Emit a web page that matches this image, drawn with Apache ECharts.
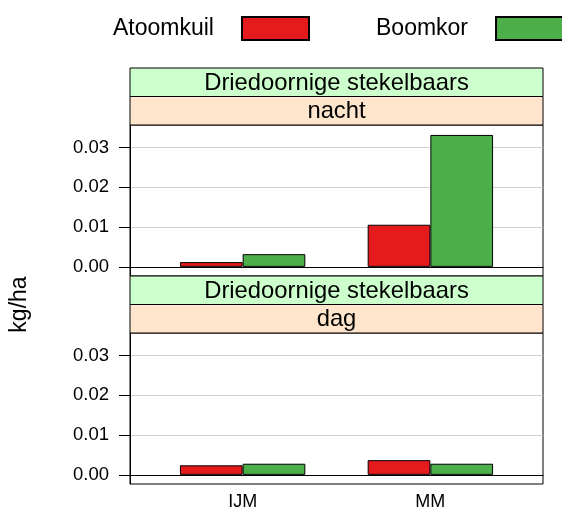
<!DOCTYPE html>
<html><head><meta charset="utf-8">
<script src="https://cdn.jsdelivr.net/npm/echarts@6/dist/echarts.min.js"></script>
<style>html,body{margin:0;padding:0;background:#fff}#c{width:562px;height:513px}</style>
</head><body><div id="c"></div>
<script>
// ---- data ----
const categories = ['IJM', 'MM'];
const xPositions = [1, 2];
const seriesNames = ['Atoomkuil', 'Boomkor'];
const species = 'Driedoornige stekelbaars';
const panels = ['nacht', 'dag'];
const nachtAtoomkuil = [0.0012, 0.0106];
const nachtBoomkor = [0.0032, 0.0332];
const dagAtoomkuil = [0.0024, 0.0037];
const dagBoomkor = [0.0028, 0.0028];
const yTicks = [0, 0.01, 0.02, 0.03];
const yLabel = 'kg/ha';

// ---- styles ----
const FONT = 'Liberation Sans, Arial, sans-serif';
const colors = ['#E41A1C', '#4DAF4A'];
const panelValues = [[nachtAtoomkuil, nachtBoomkor], [dagAtoomkuil, dagBoomkor]];
const L = 130, R = 19, W = 413;
const gridTops = [125, 333];
const gridH = 151;
const stripH = 28.5;
const legendLefts = [108, 371];

const grids = gridTops.map(t => ({left: L, right: R, top: t, height: gridH, show: true, borderColor: '#000', borderWidth: 1, backgroundColor: '#fff'}));

const xAxes = gridTops.map((t, i) => ({
  type: 'value', gridIndex: i, min: 0.4, max: 2.6,
  axisLine: {show: true, lineStyle: {color: '#000'}},
  axisTick: {show: false},
  splitLine: {show: false},
  axisLabel: {show: i === 1, customValues: xPositions, formatter: v => categories[xPositions.indexOf(v)],
    fontSize: 18, color: '#000', fontFamily: FONT, margin: 9}
}));

const yAxes = gridTops.map((t, i) => ({
  type: 'value', gridIndex: i, min: -0.0023, max: 0.0357,
  axisLine: {show: true, lineStyle: {color: '#000'}},
  axisTick: {show: true, length: 11, customValues: yTicks, lineStyle: {color: '#000'}},
  axisLabel: {customValues: yTicks, formatter: v => v.toFixed(2), fontSize: 18.5, color: '#000', fontFamily: FONT, margin: 21},
  splitLine: {show: true, lineStyle: {color: '#d0d0d0', width: 1}}
}));

const series = [];
panelValues.forEach((pv, p) => {
  pv.forEach((vals, s) => {
    series.push({
      name: seriesNames[s], type: 'bar', xAxisIndex: p, yAxisIndex: p,
      barWidth: 62.7, barGap: '0%',
      itemStyle: {color: colors[s], borderColor: '#000', borderWidth: 1},
      data: xPositions.map((x, i) => [x, vals[i]])
    });
  });
});

const graphics = [];
gridTops.forEach((t, i) => {
  const s1 = t - 2 * stripH, s2 = t - stripH;
  [[s1, '#CCFFCC', species], [s2, '#FFE5CC', panels[i]]].forEach(([y, fill, txt]) => {
    graphics.push({type: 'rect', z: 10, shape: {x: L, y: y, width: W, height: stripH},
      style: {fill: fill, stroke: '#000', lineWidth: 1}});
    graphics.push({type: 'text', z: 11, x: L + W / 2, y: y + stripH / 2 + 1,
      style: {text: txt, fill: '#000', font: '23.8px ' + FONT, textAlign: 'center', textVerticalAlign: 'middle'}});
  });
});
graphics.push({type: 'text', x: 20, y: 304.5, rotation: Math.PI / 2,
  style: {text: yLabel, fill: '#000', font: '23px ' + FONT, textAlign: 'center', textVerticalAlign: 'middle'}});

const legends = seriesNames.map((n, i) => ({
  data: [n], left: legendLefts[i], top: 11, align: 'right', icon: 'rect', orient: 'horizontal',
  itemWidth: 67, itemHeight: 23, selectedMode: false,
  textStyle: {fontSize: 23, color: '#000', fontFamily: FONT, padding: [0, 23, 0, 0]}
}));

const chart = echarts.init(document.getElementById('c'), null, {renderer: 'canvas'});
chart.setOption({
  animation: false,
  backgroundColor: '#fff',
  legend: legends,
  grid: grids, xAxis: xAxes, yAxis: yAxes, series: series, graphic: graphics
});
</script></body></html>
